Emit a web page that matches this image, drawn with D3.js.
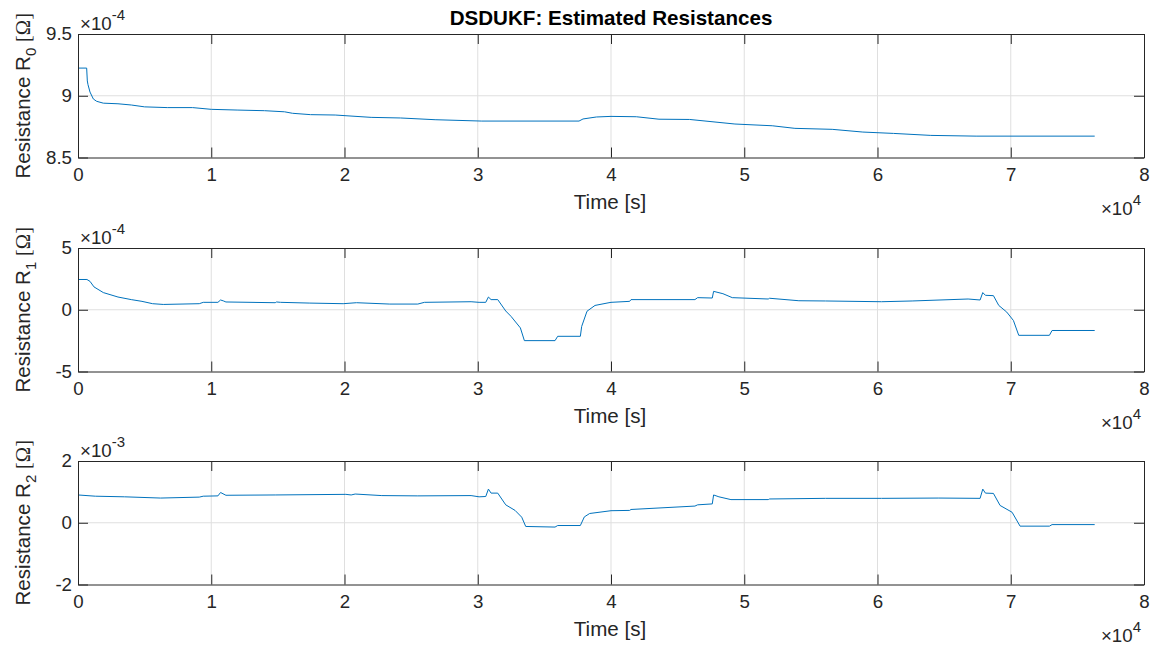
<!DOCTYPE html>
<html>
<head>
<meta charset="utf-8">
<script src="https://cdn.jsdelivr.net/npm/d3@7"></script>
<style>
  html, body { margin: 0; padding: 0; background: #fff; }
  svg { display: block; }
  text { font-family: "Liberation Sans", Arial, Helvetica, sans-serif; }
</style>
</head>
<body>
<svg id="chart" width="1153" height="646"></svg>
<script>
// ---------- data (time in s, resistance in Ω) ----------
const titleText = "DSDUKF: Estimated Resistances";
const xLabel = "Time [s]";
const xTicks = [0, 1e4, 2e4, 3e4, 4e4, 5e4, 6e4, 7e4, 8e4];
const xTickLabels = ["0", "1", "2", "3", "4", "5", "6", "7", "8"];

const tR0 = [0, 650, 700, 750, 900, 1150, 1400, 1900, 3000, 4000, 5000, 6700, 8600, 10000, 12000, 14000, 15500, 16100, 17450, 19300, 22000, 24200, 26800, 30300, 37600, 37900, 38900, 40000, 41900, 43600, 45900, 49300, 52100, 53800, 56600, 58900, 61200, 64000, 67400, 76300];
const r0 = [9.224e-4, 9.224e-4, 9.12e-4, 9.09e-4, 9.03e-4, 8.974e-4, 8.955e-4, 8.94e-4, 8.935e-4, 8.925e-4, 8.91e-4, 8.904e-4, 8.904e-4, 8.89e-4, 8.884e-4, 8.879e-4, 8.87e-4, 8.858e-4, 8.847e-4, 8.844e-4, 8.825e-4, 8.82e-4, 8.806e-4, 8.795e-4, 8.795e-4, 8.812e-4, 8.828e-4, 8.833e-4, 8.83e-4, 8.81e-4, 8.808e-4, 8.771e-4, 8.757e-4, 8.736e-4, 8.728e-4, 8.706e-4, 8.695e-4, 8.679e-4, 8.673e-4, 8.673e-4];

const tR1 = [0, 670, 900, 1200, 1900, 3000, 4000, 4800, 5600, 6400, 9100, 9400, 10500, 10700, 10900, 11100, 14800, 14900, 15200, 17400, 19900, 20900, 23400, 25500, 26000, 29500, 30100, 30600, 30800, 31000, 31500, 32100, 32500, 33200, 33500, 35800, 36000, 37700, 37800, 38200, 38800, 39700, 40000, 41400, 41500, 46300, 46500, 47600, 47700, 48400, 49100, 51800, 51900, 54100, 56100, 60300, 62600, 66800, 67700, 67900, 68100, 68700, 69100, 69700, 70200, 70600, 72900, 73100, 76300];
const r1 = [2.45e-4, 2.45e-4, 2.3e-4, 1.85e-4, 1.39e-4, 1.03e-4, 0.82e-4, 0.68e-4, 0.49e-4, 0.43e-4, 0.49e-4, 0.6e-4, 0.6e-4, 0.79e-4, 0.72e-4, 0.63e-4, 0.57e-4, 0.63e-4, 0.6e-4, 0.54e-4, 0.49e-4, 0.57e-4, 0.46e-4, 0.46e-4, 0.6e-4, 0.65e-4, 0.6e-4, 0.6e-4, 1.03e-4, 0.82e-4, 0.82e-4, -0.1e-4, -0.54e-4, -1.47e-4, -2.5e-4, -2.5e-4, -2.15e-4, -2.15e-4, -1.35e-4, -0.12e-4, 0.35e-4, 0.54e-4, 0.6e-4, 0.68e-4, 0.82e-4, 0.82e-4, 0.98e-4, 0.95e-4, 1.49e-4, 1.3e-4, 0.98e-4, 0.87e-4, 0.93e-4, 0.73e-4, 0.71e-4, 0.65e-4, 0.71e-4, 0.87e-4, 0.79e-4, 1.39e-4, 1.17e-4, 1.14e-4, 0.35e-4, -0.19e-4, -0.87e-4, -2.07e-4, -2.07e-4, -1.68e-4, -1.68e-4];

const tR2 = [0, 1300, 3500, 6200, 9100, 9400, 10500, 10700, 11100, 14800, 20100, 20500, 20800, 22800, 25500, 29500, 30100, 30600, 30800, 31000, 31500, 32100, 32800, 33300, 33600, 35800, 36000, 37700, 38000, 38400, 40000, 41400, 41500, 46300, 46500, 47600, 47700, 48100, 49000, 51800, 51900, 56100, 60300, 64600, 67700, 67900, 68100, 68700, 69200, 70100, 70700, 72900, 73100, 76300];
const r2 = [0.90e-3, 0.86e-3, 0.84e-3, 0.80e-3, 0.83e-3, 0.86e-3, 0.87e-3, 0.98e-3, 0.89e-3, 0.90e-3, 0.92e-3, 0.90e-3, 0.93e-3, 0.88e-3, 0.87e-3, 0.88e-3, 0.84e-3, 0.85e-3, 1.09e-3, 0.96e-3, 0.96e-3, 0.58e-3, 0.40e-3, 0.18e-3, -0.12e-3, -0.14e-3, -0.09e-3, -0.09e-3, 0.19e-3, 0.30e-3, 0.39e-3, 0.40e-3, 0.43e-3, 0.54e-3, 0.58e-3, 0.61e-3, 0.90e-3, 0.84e-3, 0.75e-3, 0.75e-3, 0.77e-3, 0.79e-3, 0.79e-3, 0.80e-3, 0.79e-3, 1.09e-3, 0.96e-3, 0.95e-3, 0.56e-3, 0.34e-3, -0.11e-3, -0.11e-3, -0.06e-3, -0.06e-3];

const yTicksR0 = [8.5e-4, 9e-4, 9.5e-4];
const yTickLabelsR0 = ["8.5", "9", "9.5"];
const yTicksR1 = [-5e-4, 0, 5e-4];
const yTickLabelsR1 = ["-5", "0", "5"];
const yTicksR2 = [-2e-3, 0, 2e-3];
const yTickLabelsR2 = ["-2", "0", "2"];
const subscripts = ["0", "1", "2"];
const exponents = ["-4", "-4", "-3"];

// ---------- drawing ----------
const svg = d3.select("#chart");
const left = 78, right = 1144;
const panelTops = [34, 248, 461];
const panelH = 123.5;
const textColor = "#262626";
const lineColor = "#0072BD";
const gridColor = "#dfdfdf";
const fs = 18.7, labelFs = 20.6;

const panels = [
  { t: tR0, v: r0, ticks: yTicksR0, labels: yTickLabelsR0, dom: [8.5e-4, 9.5e-4] },
  { t: tR1, v: r1, ticks: yTicksR1, labels: yTickLabelsR1, dom: [-5e-4, 5e-4] },
  { t: tR2, v: r2, ticks: yTicksR2, labels: yTickLabelsR2, dom: [-2e-3, 2e-3] }
];

const x = d3.scaleLinear().domain([0, 8e4]).range([left, right]);

panels.forEach((p, i) => {
  const top = panelTops[i], bottom = top + panelH;
  const y = d3.scaleLinear().domain(p.dom).range([bottom, top]);
  const g = svg.append("g");

  // grid
  g.append("g").selectAll("line.gx").data(xTicks.slice(1, -1)).join("line")
    .attr("x1", d => x(d)).attr("x2", d => x(d)).attr("y1", top).attr("y2", bottom)
    .attr("stroke", gridColor).attr("stroke-width", 1);
  g.append("g").selectAll("line.gy").data(p.ticks.slice(1, -1)).join("line")
    .attr("x1", left).attr("x2", right).attr("y1", d => y(d)).attr("y2", d => y(d))
    .attr("stroke", gridColor).attr("stroke-width", 1);

  // data line
  const line = d3.line().x((d, k) => x(p.t[k])).y(d => y(d));
  g.append("path").datum(p.v).attr("d", line)
    .attr("fill", "none").attr("stroke", lineColor).attr("stroke-width", 1)
    .attr("stroke-linejoin", "round");

  // axes: bottom & left with inner ticks, plus top & right mirrors
  const tl = 10;
  const xAxB = d3.axisBottom(x).tickValues(xTicks).tickFormat((d, k) => xTickLabels[k])
    .tickSizeInner(-tl).tickSizeOuter(0).tickPadding(10);
  const xAxT = d3.axisTop(x).tickValues(xTicks).tickFormat("").tickSizeInner(-tl).tickSizeOuter(0);
  const yAxL = d3.axisLeft(y).tickValues(p.ticks).tickFormat((d, k) => p.labels[k])
    .tickSizeInner(-tl).tickSizeOuter(0).tickPadding(6);
  const yAxR = d3.axisRight(y).tickValues(p.ticks).tickFormat("").tickSizeInner(-tl).tickSizeOuter(0);

  const axes = [
    g.append("g").attr("transform", `translate(0,${bottom})`).call(xAxB),
    g.append("g").attr("transform", `translate(0,${top})`).call(xAxT),
    g.append("g").attr("transform", `translate(${left},0)`).call(yAxL),
    g.append("g").attr("transform", `translate(${right},0)`).call(yAxR)
  ];
  axes.forEach(a => {
    a.selectAll("path.domain").attr("stroke", textColor).attr("stroke-width", 1);
    a.selectAll(".tick line").attr("stroke", textColor).attr("stroke-width", 1);
    a.selectAll(".tick text").attr("fill", textColor).attr("font-size", fs)
      .attr("font-family", "Liberation Sans, Arial, sans-serif");
  });

  // x label
  g.append("text").attr("x", 610).attr("y", bottom + 51).attr("text-anchor", "middle")
    .attr("fill", textColor).attr("font-size", labelFs).text(xLabel);

  // x exponent ×10^4
  const xe = g.append("text").attr("x", 1141).attr("y", bottom + 57).attr("text-anchor", "end")
    .attr("fill", textColor).attr("font-size", fs);
  xe.append("tspan").text("\u00d710");
  xe.append("tspan").attr("dy", -10).attr("font-size", 15).text("4");

  // y exponent ×10^-n
  const ye = g.append("text").attr("x", 80).attr("y", top - 4.5)
    .attr("fill", textColor).attr("font-size", fs);
  ye.append("tspan").text("\u00d710");
  ye.append("tspan").attr("dy", -10).attr("font-size", 15).text(exponents[i]);

  // y label
  const yl = g.append("text")
    .attr("transform", `translate(29.5,${(top + bottom) / 2}) rotate(-90)`)
    .attr("text-anchor", "middle").attr("fill", textColor).attr("font-size", labelFs);
  yl.append("tspan").text("Resistance R");
  yl.append("tspan").attr("dy", 6).attr("font-size", 15).text(subscripts[i]);
  yl.append("tspan").attr("dy", -6).text(" ");
  yl.append("tspan").attr("font-family", "Liberation Serif, Times New Roman, serif").text("[\u03a9]");
});

// title
svg.append("text").attr("x", 611).attr("y", 25).attr("text-anchor", "middle")
  .attr("font-weight", "bold").attr("font-size", labelFs).attr("fill", "#000").text(titleText);
</script>
</body>
</html>
